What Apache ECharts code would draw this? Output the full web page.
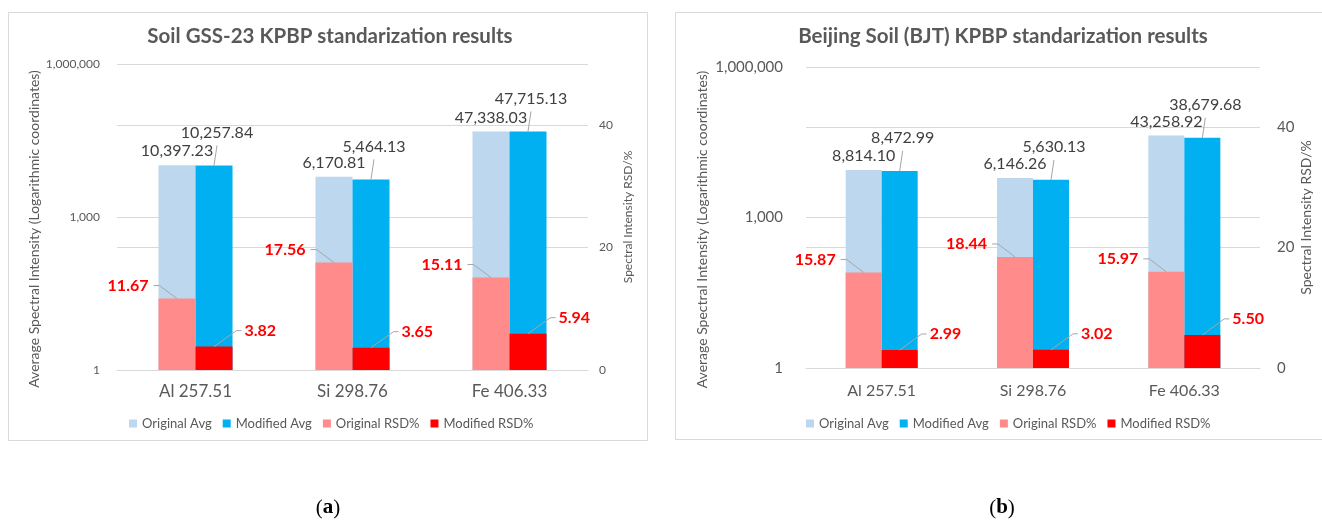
<!DOCTYPE html>
<html>
<head>
<meta charset="utf-8">
<script src="https://cdn.jsdelivr.net/npm/echarts@6/dist/echarts.min.js"></script>
<style>
  html, body { margin: 0; padding: 0; background: #ffffff; }
  #chart { width: 1322px; height: 520px; }
</style>
</head>
<body>
<div id="chart"></div>
<script>
// Emission lines (element + wavelength, nm)
const categories = ['Al 257.51', 'Si 298.76', 'Fe 406.33'];
const seriesNames = ['Original Avg', 'Modified Avg', 'Original RSD%', 'Modified RSD%'];

// Soil GSS-23
const gssOriginalAvg = [10397.23, 6170.81, 47338.03];
const gssModifiedAvg = [10257.84, 5464.13, 47715.13];
const gssOriginalRsd = [11.67, 17.56, 15.11];
const gssModifiedRsd = [3.82, 3.65, 5.94];

// Beijing soil (BJT)
const bjtOriginalAvg = [8814.10, 6146.26, 43258.92];
const bjtModifiedAvg = [8472.99, 5630.13, 38679.68];
const bjtOriginalRsd = [15.87, 18.44, 15.97];
const bjtModifiedRsd = [2.99, 3.02, 5.50];

// Axis ticks
const intensityTicks = [1, 1000, 1000000];   // logarithmic, base 1000
const rsdTicks = [0, 20, 40];
const rsdMax = 50;

const COLORS = ['#bdd7ee', '#00b0f0', '#ff8b8b', '#ff0000'];
const FONT = 'Lato, "Open Sans", sans-serif';
const GRID_LINE = '#d9d9d9';
const TEXT_GRAY = '#595959';
const LEADER = '#a6a6a6';

const panels = [
  {
    title: 'Soil GSS-23 KPBP standarization results',
    caption: 'a',
    values: [gssOriginalAvg, gssModifiedAvg, gssOriginalRsd, gssModifiedRsd],
    box: { x: 8, y: 12, w: 639, h: 428 },
    grid: { left: 117, top: 64, width: 471, height: 306 },
    titleX: 330, captionX: 328, legendLeft: 129,
    barWidth: 37,
    yLabelSize: 12, xLabelSize: 17, xLabelMargin: 13,
    leftLabelMargin: 17, rightLabelMargin: 11,
    leftNameSize: 14, leftNameGap: 75,
    rightNameSize: 12, rightNameGap: 34
  },
  {
    title: 'Beijing Soil (BJT) KPBP standarization results',
    caption: 'b',
    values: [bjtOriginalAvg, bjtModifiedAvg, bjtOriginalRsd, bjtModifiedRsd],
    box: { x: 675, y: 12, w: 700, h: 427 },
    grid: { left: 806, top: 67, width: 454, height: 301 },
    titleX: 1003, captionX: 1002, legendLeft: 806,
    barWidth: 36,
    yLabelSize: 15, xLabelSize: 16, xLabelMargin: 15,
    leftLabelMargin: 23, rightLabelMargin: 17,
    leftNameSize: 14, leftNameGap: 97,
    rightNameSize: 14, rightNameGap: 39
  }
];

const fmt2 = v => v.toLocaleString('en-US', { minimumFractionDigits: 2, maximumFractionDigits: 2 });

// Label offsets from each bar's top edge
const LBL = {
  origAvgDy: -14,
  modAvgDx: 3, modAvgDy: -33,
  origRsdGap: 10, origRsdDy: -13,
  modRsdGap: 12, modRsdDy: -16
};

const labelPlacers = [
  p => ({ x: p.rect.x + p.rect.width / 2, y: p.rect.y + LBL.origAvgDy, align: 'center', verticalAlign: 'middle' }),
  p => ({ x: p.rect.x + p.rect.width / 2 + LBL.modAvgDx, y: p.rect.y + LBL.modAvgDy, align: 'center', verticalAlign: 'middle' }),
  p => ({ x: p.rect.x - LBL.origRsdGap, y: p.rect.y + LBL.origRsdDy, align: 'right', verticalAlign: 'middle' }),
  p => ({ x: p.rect.x + p.rect.width + LBL.modRsdGap, y: p.rect.y + LBL.modRsdDy, align: 'left', verticalAlign: 'middle' })
];

const grids = [], xAxes = [], yAxes = [], series = [], legends = [], graphics = [];

panels.forEach((pn, i) => {
  grids.push(Object.assign({ containLabel: false }, pn.grid));

  // visible category axis (intensity bars) + hidden twin for the RSD bars
  xAxes.push({
    type: 'category', gridIndex: i, data: categories,
    axisLine: { show: true, lineStyle: { color: GRID_LINE, width: 1 } },
    axisTick: { show: false },
    axisLabel: { color: TEXT_GRAY, fontSize: pn.xLabelSize, fontFamily: FONT, margin: pn.xLabelMargin }
  });
  xAxes.push({ type: 'category', gridIndex: i, data: categories, show: false });

  yAxes.push({
    type: 'log', gridIndex: i, logBase: 1000,
    min: intensityTicks[0], max: intensityTicks[intensityTicks.length - 1],
    name: 'Average Spectral Intensity (Logarithmic coordinates)',
    nameLocation: 'middle', nameRotate: 90, nameGap: pn.leftNameGap,
    nameTextStyle: { color: TEXT_GRAY, fontSize: pn.leftNameSize, fontFamily: FONT, padding: [0, 24, 0, 0] },
    axisLine: { show: false }, axisTick: { show: false },
    axisLabel: {
      color: TEXT_GRAY, fontSize: pn.yLabelSize, fontFamily: FONT, margin: pn.leftLabelMargin,
      formatter: v => Math.round(v).toLocaleString('en-US')
    },
    splitLine: { show: true, lineStyle: { color: GRID_LINE, width: 1 } }
  });
  yAxes.push({
    type: 'value', gridIndex: i, position: 'right',
    min: rsdTicks[0], max: rsdMax, interval: rsdTicks[1] - rsdTicks[0],
    name: 'Spectral Intensity RSD/%',
    nameLocation: 'middle', nameRotate: 90, nameGap: pn.rightNameGap,
    nameTextStyle: { color: TEXT_GRAY, fontSize: pn.rightNameSize, fontFamily: FONT },
    axisLine: { show: false }, axisTick: { show: false },
    axisLabel: {
      color: TEXT_GRAY, fontSize: pn.yLabelSize, fontFamily: FONT, margin: pn.rightLabelMargin,
      showMaxLabel: false
    },
    splitLine: { show: true, lineStyle: { color: GRID_LINE, width: 1 } }
  });

  seriesNames.forEach((name, k) => {
    const isRsd = k >= 2;
    series.push({
      name: name, type: 'bar',
      xAxisIndex: 2 * i + (isRsd ? 1 : 0),
      yAxisIndex: 2 * i + (isRsd ? 1 : 0),
      data: pn.values[k],
      barWidth: pn.barWidth, barGap: '0%',
      z: isRsd ? 3 : 2,
      itemStyle: { color: COLORS[k] },
      label: {
        show: true,
        fontFamily: FONT, fontSize: 16,
        color: isRsd ? '#ff0000' : '#404040',
        fontWeight: isRsd ? 'bold' : 'normal',
        formatter: p => fmt2(p.value)
      },
      labelLayout: labelPlacers[k],
      animation: false
    });
  });

  legends.push({
    data: seriesNames, left: pn.legendLeft, top: 417, padding: 0,
    icon: 'rect', itemWidth: 8, itemHeight: 8, itemGap: 11,
    selectedMode: false,
    textStyle: { color: TEXT_GRAY, fontSize: 13, fontFamily: FONT }
  });

  graphics.push({
    type: 'rect', silent: true, z: -1,
    shape: { x: pn.box.x + 0.5, y: pn.box.y + 0.5, width: pn.box.w, height: pn.box.h },
    style: { fill: 'none', stroke: GRID_LINE, lineWidth: 1 }
  });
  graphics.push({
    type: 'text', x: pn.titleX, y: 36,
    style: {
      text: pn.title, font: 'bold 20.5px ' + FONT, fill: TEXT_GRAY,
      align: 'center', verticalAlign: 'middle', textAlign: 'center', textVerticalAlign: 'middle'
    }
  });
  graphics.push({
    type: 'text', x: pn.captionX, y: 508,
    style: {
      text: '{p|(}{b|' + pn.caption + '}{p|)}',
      rich: {
        p: { fontFamily: '"Liberation Serif", "DejaVu Serif", serif', fontSize: 21, fill: '#000000', color: '#000000' },
        b: { fontFamily: '"Liberation Serif", "DejaVu Serif", serif', fontSize: 21, fontWeight: 'bold', fill: '#000000', color: '#000000' }
      },
      align: 'center', verticalAlign: 'middle', textAlign: 'center', textVerticalAlign: 'middle'
    }
  });
});

const chart = echarts.init(document.getElementById('chart'), null, { renderer: 'canvas' });
chart.setOption({
  backgroundColor: '#ffffff',
  animation: false,
  grid: grids,
  xAxis: xAxes,
  yAxis: yAxes,
  legend: legends,
  series: series
});

// Leader lines from the top centre of each labelled bar to its label,
// positioned through the chart's own axes.
panels.forEach((pn, i) => {
  const w = pn.barWidth;
  pn.values.forEach((vals, k) => {
    if (k === 0) return;
    const isRsd = k >= 2;
    const axes = { xAxisIndex: 2 * i + (isRsd ? 1 : 0), yAxisIndex: 2 * i + (isRsd ? 1 : 0) };
    const slot = (k % 2 === 0) ? -0.5 : 0.5;   // left / right bar of each pair
    vals.forEach((v, j) => {
      const pt = chart.convertToPixel(axes, [j, v]);
      const cx = pt[0] + slot * w;
      const top = pt[1];
      const left = cx - w / 2, right = cx + w / 2;
      let pts;
      if (k === 1) {
        pts = [[cx, top], [cx + LBL.modAvgDx, top - 20]];
      } else if (k === 2) {
        const ly = top + LBL.origRsdDy;
        pts = [[left - LBL.origRsdGap + 5, ly], [left + 1, ly], [cx, top]];
      } else {
        const ly = top + LBL.modRsdDy;
        pts = [[cx, top], [right + LBL.modRsdGap - 8, ly], [right + LBL.modRsdGap - 3, ly]];
      }
      graphics.push({
        type: 'polyline', silent: true, z: 10,
        shape: { points: pts },
        style: { stroke: LEADER, lineWidth: 1, fill: 'none' }
      });
    });
  });
});

chart.setOption({ graphic: graphics });
</script>
</body>
</html>
